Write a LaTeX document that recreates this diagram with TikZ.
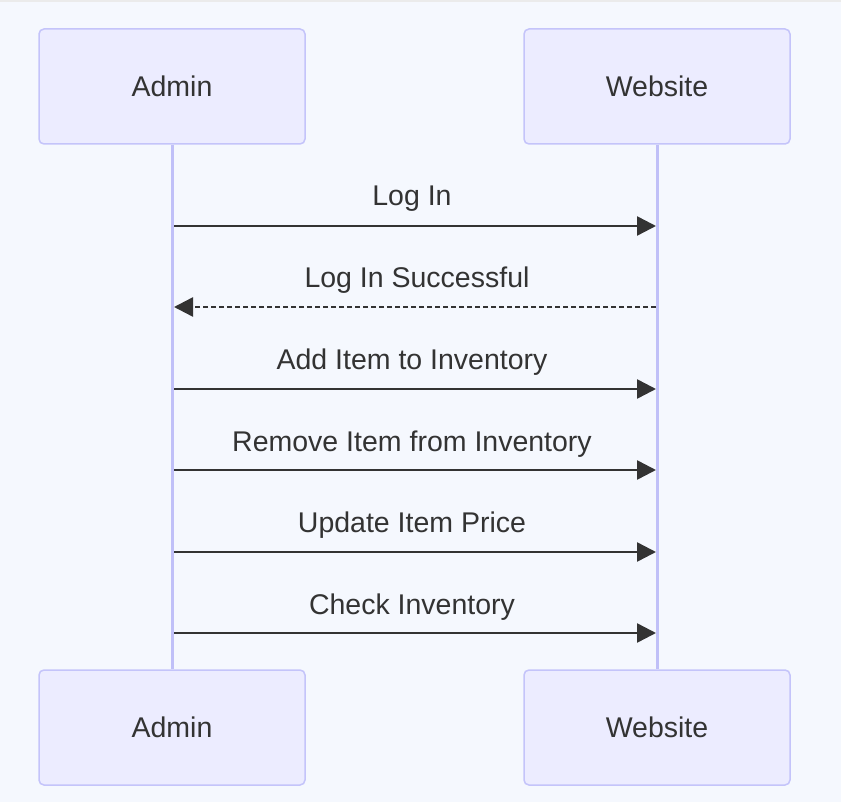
\documentclass[tikz,border=0pt]{standalone}
\usepackage{fontspec}
\setmainfont{Liberation Sans}
\usetikzlibrary{arrows.meta}
\definecolor{bg}{HTML}{F5F8FE}
\definecolor{actfill}{HTML}{ECECFF}
\definecolor{actline}{HTML}{C4C4FA}
\definecolor{lifeln}{HTML}{C0C0F8}
\definecolor{txt}{HTML}{333333}
\begin{document}
\begin{tikzpicture}[x=1pt,y=-1pt,
  actor/.style={draw=actline,fill=actfill,line width=1.5pt,rounded corners=5pt,
    minimum width=266pt,minimum height=115pt,inner sep=0pt,
    font=\fontsize{28.5}{32}\selectfont,text=txt},
  life/.style={draw=lifeln,line width=3pt},
  msg/.style={draw=txt,line width=2.5pt,-{Triangle[length=19pt,width=19pt]}},
  msglbl/.style={font=\fontsize{28.5}{32}\selectfont,text=txt,inner sep=0pt}]
\useasboundingbox (0,0) rectangle (841,802);
\fill[bg] (0,0) rectangle (841,802);
\draw[color=black!8,line width=2pt] (0,1) -- (841,1);
\node[actor] (a1) at (172,86.5) {Admin};
\node[actor] (w1) at (657,86.5) {Website};
\node[actor] (a2) at (172,727.5) {Admin};
\node[actor] (w2) at (657,727.5) {Website};
\draw[life] (a1.south) -- (a2.north);
\draw[life] (w1.south) -- (w2.north);
\coordinate (s1) at (174,226); \coordinate (e1) at (656,226);
\coordinate (s2) at (656,307); \coordinate (e2) at (174,307);
\coordinate (s3) at (174,389); \coordinate (e3) at (656,389);
\coordinate (s4) at (174,470); \coordinate (e4) at (656,470);
\coordinate (s5) at (174,552); \coordinate (e5) at (656,552);
\coordinate (s6) at (174,633); \coordinate (e6) at (656,633);
\draw[msg] (s1) -- (e1);
\draw[msg,dash pattern=on 5pt off 3pt] (s2) -- (e2);
\draw[msg] (s3) -- (e3);
\draw[msg] (s4) -- (e4);
\draw[msg] (s5) -- (e5);
\draw[msg] (s6) -- (e6);
\node[msglbl] (l1) at (412,199) {Log In};
\node[msglbl] (l2) at (417,280) {Log In Successful};
\node[msglbl] (l3) at (412,362) {Add Item to Inventory};
\node[msglbl] (l4) at (412,444) {Remove Item from Inventory};
\node[msglbl] (l5) at (412,525) {Update Item Price};
\node[msglbl] (l6) at (412,607) {Check Inventory};
\end{tikzpicture}
\end{document}
